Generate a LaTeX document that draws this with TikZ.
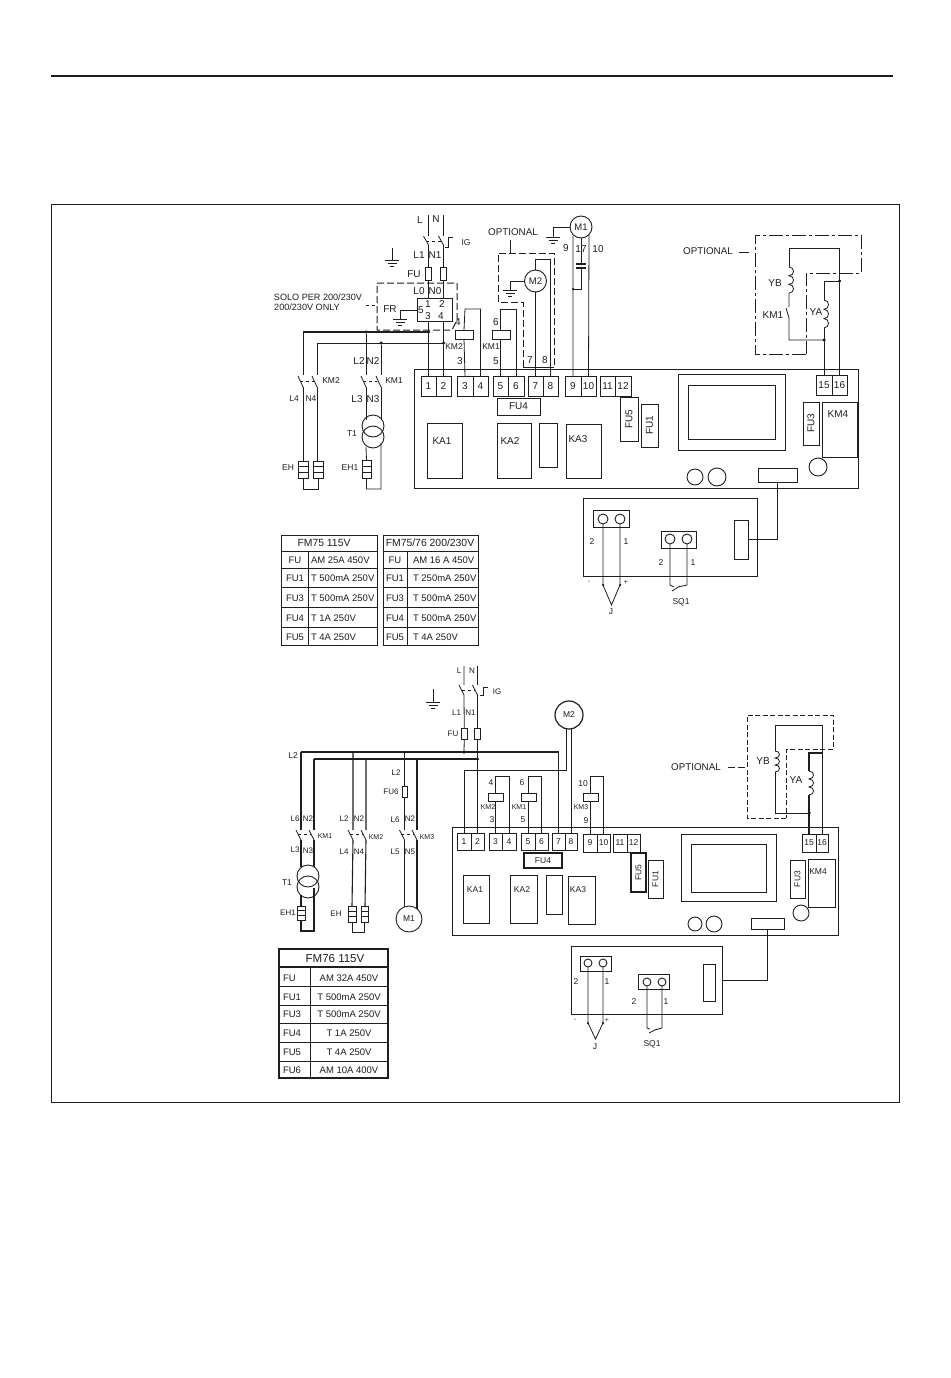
\documentclass[tikz,border=0pt]{standalone}
\usepackage{fontspec}
\setmainfont{Liberation Sans}
\definecolor{ink}{HTML}{1E1E1E}
\newcounter{lbc}
% label: optional node options, x, y, text
\newcommand\lb[4][]{\stepcounter{lbc}\node[lab,#1] (lb\thelbc) at (#2,#3) {#4};}
% box: options, name, x1, y1, x2, y2, text
\newcommand\bx[7][]{\node[boxx,#1,minimum width={(#5)-(#3)},minimum height={(#6)-(#4)}] (#2) at ({((#3)+(#5))/2},{((#4)+(#6))/2}) {#7};}
% ground symbol at top centre
\newcommand\gnd[2]{\draw[wire] (#1-7,#2) -- (#1+7,#2) (#1-4.5,#2+3) -- (#1+4.5,#2+3) (#1-2,#2+6) -- (#1+2,#2+6);}
% switch blade
\newcommand\blade[3]{\draw[wire] (#1-5,#2) -- (#1,#3);}
% heater: name x1 y1 x2 y2
\newcommand\heater[5]{\bx{#1}{#2}{#3}{#4}{#5}{}\draw[wire] (#2,{#3+(#5-#3)/3}) -- (#4,{#3+(#5-#3)/3}) (#2,{#3+2*(#5-#3)/3}) -- (#4,{#3+2*(#5-#3)/3});}
% coil at x from y1, n bumps of height h
\newcommand\coilx[4]{\draw[wire] (#1,#2) \foreach \cc in {1,...,#3}{ .. controls +(6,0) and +(6,0) .. ++(0,#4)};}
\begin{document}
\begin{tikzpicture}[x=1pt,y=-1pt,
  wire/.style={draw=ink,line width=.8pt},
  bus/.style={draw=ink,line width=1.7pt},
  lab/.style={inner sep=0pt,outer sep=0pt,text=ink,font=\fontsize{10}{10}\selectfont},
  sm/.style={font=\fontsize{8.5}{9}\selectfont},
  opt/.style={font=\fontsize{9.8}{10}\selectfont},
  tb/.style={font=\fontsize{9.5}{10}\selectfont},
  hd/.style={font=\fontsize{10.4}{11}\selectfont},
  sb/.style={font=\fontsize{8}{8}\selectfont},
  tiny2/.style={font=\fontsize{7}{7}\selectfont},
  boxx/.style={draw=ink,line width=.9pt,inner sep=0pt,outer sep=0pt,text=ink,font=\fontsize{10}{10}\selectfont},
  smb/.style={font=\fontsize{8.5}{9}\selectfont},
  dsh/.style={draw=ink,line width=1pt,dash pattern=on 7pt off 3pt},
  dsd/.style={draw=ink,line width=1pt,dash pattern=on 14pt off 3pt on 3pt off 3pt},
  dot/.style={circle,fill=ink,draw=none,inner sep=0pt,minimum size=3.5pt},
  roundc/.style={circle,draw=ink,line width=.9pt,inner sep=0pt,outer sep=0pt,text=ink,font=\fontsize{9.5}{10}\selectfont}]
\useasboundingbox (0,0) rectangle (950,1378);
\fill[white] (0,0) rectangle (950,1378);
% page rule and frame
\draw[draw=ink,line width=1.2pt] (51,76) -- (893,76);
\draw[draw=ink,line width=.8pt] (51,204) rectangle (899,1102);

%%%%%%%%%%%%%%%%%%%% TOP DIAGRAM %%%%%%%%%%%%%%%%%%%%
\bx{pcbA}{414}{369}{858}{488}{}
\bx{a1}{421}{376}{436}{396}{1}
\bx{a2}{436}{376}{451}{396}{2}
\bx{a3}{457}{376}{473}{396}{3}
\bx{a4}{473}{376}{488}{396}{4}
\bx{a5}{493}{376}{508}{396}{5}
\bx{a6}{508}{376}{524}{396}{6}
\bx{a7}{528}{376}{543}{396}{7}
\bx{a8}{543}{376}{558}{396}{8}
\bx{a9}{565}{376}{581}{396}{9}
\bx{a10}{581}{376}{596}{396}{10}
\bx{a11}{600}{376}{615}{396}{11}
\bx{a12}{615}{376}{631}{396}{12}
\bx{a15}{816}{375}{832}{395}{15}
\bx{a16}{832}{375}{847}{395}{16}
\bx{aFU4}{497}{398}{540}{415}{FU4}
\bx{aKA1}{427}{423}{462}{478}{}\lb{442}{441}{KA1}
\bx{aKA2}{497}{423}{531}{478}{}\lb{510}{441}{KA2}
\bx{aBl}{539}{423}{557}{467}{}
\bx{aKA3}{566}{424}{601}{478}{}\lb{578}{439}{KA3}
\bx{aFU5}{620}{397}{638}{441}{\rotatebox{90}{FU5}}
\bx{aFU1}{641}{404}{658}{447}{\rotatebox{90}{FU1}}
\bx{aDisp}{678}{374}{785}{450}{}
\bx{aDisI}{688}{385}{775}{439}{}
\bx{aFU3}{803}{402}{819}{445}{\rotatebox{90}{FU3}}
\bx{aKM4}{822}{402}{857}{457}{}\lb{838}{414}{KM4}
\node[roundc,minimum size=16pt] (aC1) at (695,477) {};
\node[roundc,minimum size=18pt] (aC2) at (717,477) {};
\node[roundc,minimum size=18pt] (aC3) at (818,467) {};
\bx{aConn}{758}{468}{797}{482}{}
% auxiliary board
\bx{aAux}{583}{498}{757}{576}{}
\bx{aJb}{593}{510}{629}{527}{}
\node[roundc,minimum size=10pt] (aJ1) at (603,519) {};
\node[roundc,minimum size=10pt] (aJ2) at (620,519) {};
\bx{aSb}{661}{531}{696}{548}{}
\node[roundc,minimum size=10pt] (aS1) at (670,539) {};
\node[roundc,minimum size=10pt] (aS2) at (687,539) {};
\bx{aAc}{734}{520}{748}{559}{}
\draw[wire] (aAc.east) -| (aConn.south);
\coordinate (aJtip) at (611.5,605);
\draw[wire] (aJ1.south) -- (603,585) -- (aJtip) -- (620,585) -- (aJ2.south);
\node[dot,minimum size=2.5pt] (aJd1) at (603,585) {};
\node[dot,minimum size=2.5pt] (aJd2) at (620,585) {};
\draw[wire] (aS1.south) -- (670,585) -- (674,587) (672,591) -- (680,586) (678,587) -- (687,585) -- (aS2.south);
\lb[sm]{592}{542}{2}\lb[sm]{626}{542}{1}\lb[tiny2]{589}{582}{-}\lb[tiny2]{626}{582}{+}\lb[sm]{611}{612}{J}
\lb[sm]{661}{563}{2}\lb[sm]{693}{563}{1}\lb[sm]{681}{602}{SQ1}
% mains input
\coordinate (aL) at (428.5,215);
\coordinate (aN) at (443.5,215);
\bx{aFL}{425.5}{267}{431.5}{280}{}
\bx{aFN}{440.5}{267}{446.5}{280}{}
\bx{aFR}{417}{298}{452}{321}{}
\draw[wire] (aL) -- (428.5,236) (428.5,245) -- (aFL.north) (aFL.south) -- (428.5,298);
\draw[wire] (aN) -- (443.5,236) (443.5,245) -- (aFN.north) (aFN.south) -- (443.5,298);
\blade{428.5}{236}{245}\blade{443.5}{236}{245}
\draw[wire,dashed] (426,241) -- (441,241);
\draw[wire] (445,247) -- (448,247) -- (448,237) -- (453,237);
\lb{420}{220}{L}\lb{436}{219}{N}\lb[sm]{466}{243}{IG}\lb{419}{255}{L1}\lb{435}{255}{N1}\lb{414}{274}{FU}
\lb{419}{291}{L0}\lb{435}{291}{N0}
\draw[wire] (392,248) -- (392,260);\gnd{392}{260}
\draw[dsh] (377,283) -- (457,283) -- (457,320) -- (452,330) -- (377,330) -- cycle;
\lb{428}{304}{1}\lb{442}{304}{2}\lb{428}{316}{3}\lb{441}{316}{4}\lb{421}{310}{5}\lb{390}{309}{FR}
\draw[wire] (aFR.west |- 0,310) -- (400,310) -- (400,319);\gnd{400}{319}
\lb[font=\fontsize{9.1}{9}\selectfont]{318}{297}{SOLO PER 200/230V}\lb[font=\fontsize{9.1}{9}\selectfont]{307}{307}{200/230V ONLY}
\draw[wire,dashed] (366,305) -- (376,305);
% bus wires
\coordinate (aBL) at (428.5,332);
\coordinate (aBN) at (443.5,343);
\draw[wire] (428.5,321) -- (a1.north);
\draw[wire] (443.5,321) -- (a2.north);
\draw[bus] (aBL) -- (303,332);
\draw[wire] (aBN) -- (317,343);
\node[dot] (aD1) at (aBL) {};\node[dot] (aD2) at (aBN) {};
\node[dot] (aD3) at (366,332) {};\node[dot] (aD4) at (381,343) {};
% KM2 branch
\draw[wire] (303,332) -- (303,375) (303,387) -- (303,461) (317,343) -- (317,375) (317,387) -- (317,461);
\blade{303}{376}{387}\blade{317}{376}{387}
\draw[wire,dashed] (300,381) -- (314,381);
\lb[sm]{331}{381}{KM2}\lb[sm]{294}{399}{L4}\lb[sm]{311}{399}{N4}
\heater{aEHa}{298}{461}{308}{478}\heater{aEHb}{313}{461}{323}{478}
\draw[wire] (aEHa.south) -- (303,489) -- (318,489) -- (aEHb.south);
\lb[sm]{288}{468}{EH}
% KM1 branch
\draw[wire] (aD3) -- (366,375) (366,387) -- (366,420) (aD4) -- (381,375) (381,387) -- (381,420);
\blade{366}{376}{387}\blade{381}{376}{387}
\draw[wire,dashed] (363,381) -- (377,381);
\lb[sm]{394}{381}{KM1}\lb{359}{361}{L2}\lb{373}{361}{N2}\lb{357}{399}{L3}\lb{373}{399}{N3}
\node[roundc,minimum size=22pt] (aTa) at (373,426) {};
\node[roundc,minimum size=22pt] (aTb) at (373,437) {};
\lb[sm]{352}{434}{T1}
\heater{aEH1}{362}{460}{371}{478}
\draw[wire] (366,447) -- (aEH1.north) (aEH1.south) -- (366.5,489) -- (381,489) -- (381,443);
\lb[sm]{350}{468}{EH1}
% relays
\bx{aRa}{455}{330}{473}{339}{}
\draw[wire] (a3.north) -- (aRa.south) (aRa.north) -- (465,309) -- (480.5,309) -- (a4.north);
\lb{458}{322}{4}\lb[sm]{454}{347}{KM2}\lb{460}{361}{3}
\bx{aRb}{492}{330}{510}{339}{}
\draw[wire] (a5.north) -- (500.5,339) (500.5,330) -- (500.5,309) -- (516,309) -- (a6.north);
\lb{496}{322}{6}\lb[sm]{491}{347}{KM1}\lb{496}{361}{5}
% M2 and optional box
\lb[opt]{513}{232}{OPTIONAL}
\draw[wire] (510,240) -- (510,253);
\draw[dsh] (523,367) -- (523,302) -- (498,302) -- (498,253) -- (554,253) -- (554,367);
\draw[wire] (523,367) -- (554,367);
\node[roundc,minimum size=22pt] (aM2) at (535.5,281) {M2};
\draw[wire] (aM2.west) -- (510,281) -- (510,290);\gnd{510}{290}
\draw[wire] (a7.north) -- (aM2.south);
\draw[wire] (aM2.north) -- (535.5,259) -- (550.5,259) -- (a8.north);
\lb{530}{360}{7}\lb{545}{360}{8}
% M1
\node[roundc,minimum size=22pt] (aM1) at (581,227) {M1};
\draw[wire] (aM1.west) -- (553,227) -- (553,237);\gnd{553}{237}
\draw[wire] (573,236) -- (a9.north) (589,235) -- (a10.north);
\draw[wire] (aM1.south) -- (581,264) (581,268) -- (581,289) -- (573,289);
\draw[wire,line width=1.1pt] (576,264) -- (586,264) (576,268) -- (586,268);
\node[dot,minimum size=2.5pt] (aD5) at (573,289) {};
\lb{566}{248}{9}\lb{581}{249}{17}\lb{598}{249}{10}
% right optional
\lb[opt]{708}{251}{OPTIONAL}
\draw[wire] (739,252) -- (749,252);
\draw[dsd] (806,354) -- (755,354) -- (755,235) -- (861,235) -- (861,273) -- (806,273) -- (806,354);
\draw[wire] (789,267) -- (789,248) -- (839.5,248) -- (a16.north);
\coilx{789}{267}{3}{8.7}
\draw[wire] (789,293) -- (789,307) (786,308) -- (789,318) -- (789,340) -- (824,340);
\draw[wire] (a15.north) -- (824,328);
\coilx{824}{300}{3}{9.3}
\draw[wire] (824,300) -- (824,281) -- (839.5,281);
\node[dot] (aD6) at (824,340) {};\node[dot] (aD7) at (839.5,281) {};
\lb{775}{283}{YB}\lb{773}{315}{KM1}\lb{816}{312}{YA}
% tables
\draw[draw=ink,line width=1pt] (281,535) rectangle (377,645) (281,551) -- (377,551);
\draw[draw=ink,line width=.7pt] (308,551) -- (308,645) (281,568) -- (377,568) (281,587) -- (377,587) (281,607) -- (377,607) (281,627) -- (377,627);
\draw[draw=ink,line width=1pt] (383,535) rectangle (478,645) (383,551) -- (478,551);
\draw[draw=ink,line width=.7pt] (407,551) -- (407,645) (383,568) -- (478,568) (383,587) -- (478,587) (383,607) -- (478,607) (383,627) -- (478,627);
\lb[hd]{324}{543}{FM75  115V}\lb[hd]{430}{543}{FM75/76  200/230V}
\foreach \yy/\aa/\bb/\cc/\dd in {
  560/FU/AM 25A 450V/FU/AM 16 A 450V,
  578/FU1/T 500mA 250V/FU1/T 250mA 250V,
  598/FU3/T 500mA 250V/FU3/T 500mA 250V,
  618/FU4/T 1A 250V/FU4/T 500mA 250V,
  637/FU5/T 4A 250V/FU5/T 4A 250V}{
  \lb[tb]{295}{\yy}{\aa}
  \lb[tb,anchor=west]{311}{\yy}{\bb}
  \lb[tb]{395}{\yy}{\cc}
  \lb[tb,anchor=west]{413}{\yy}{\dd}
}

%%%%%%%%%%%%%%%%%%%% BOTTOM DIAGRAM %%%%%%%%%%%%%%%%%%%%
\bx{pcbB}{452}{827}{838}{935}{}
\bx[smb]{b1}{457}{833}{471}{850}{1}
\bx[smb]{b2}{471}{833}{484}{850}{2}
\bx[smb]{b3}{489}{833}{502}{850}{3}
\bx[smb]{b4}{502}{833}{516}{850}{4}
\bx[smb]{b5}{521}{833}{535}{850}{5}
\bx[smb]{b6}{535}{833}{548}{850}{6}
\bx[smb]{b7}{552}{833}{565}{850}{7}
\bx[smb]{b8}{565}{833}{577}{850}{8}
\bx[smb]{b9}{583}{834}{597}{852}{9}
\bx[smb]{b10}{597}{834}{610}{852}{10}
\bx[smb]{b11}{613}{834}{627}{852}{11}
\bx[smb]{b12}{627}{834}{640}{852}{12}
\bx[smb]{b15}{802}{834}{816}{852}{15}
\bx[smb]{b16}{816}{834}{828}{852}{16}
\bx[smb,line width=1.3pt]{bFU4}{524}{853}{562}{868}{FU4}
\bx{bKA1}{463}{875}{489}{923}{}\lb[sm]{475}{890}{KA1}
\bx{bKA2}{510}{875}{537}{923}{}\lb[sm]{522}{890}{KA2}
\bx{bBl}{546}{875}{562}{914}{}
\bx{bKA3}{568}{876}{595}{924}{}\lb[sm]{578}{890}{KA3}
\bx[smb,line width=1.3pt]{bFU5}{631}{853}{646}{892}{\rotatebox{90}{FU5}}
\bx[smb]{bFU1}{648}{860}{663}{898}{\rotatebox{90}{FU1}}
\bx{bDisp}{681}{834}{776}{901}{}
\bx{bDisI}{691}{844}{766}{892}{}
\bx[smb]{bFU3}{790}{860}{805}{898}{\rotatebox{90}{FU3}}
\bx{bKM4}{808}{859}{835}{907}{}\lb[sm]{818}{872}{KM4}
\node[roundc,minimum size=14pt] (bC1) at (695,924) {};
\node[roundc,minimum size=16pt] (bC2) at (714,924) {};
\node[roundc,minimum size=16pt] (bC3) at (801,913) {};
\bx{bConn}{751}{918}{784}{929}{}
% aux board
\bx{bAux}{571}{946}{722}{1014}{}
\bx{bJb}{580}{956}{611}{971}{}
\node[roundc,minimum size=8pt] (bJ1) at (588,963) {};
\node[roundc,minimum size=8pt] (bJ2) at (603,963) {};
\bx{bSb}{638}{974}{669}{989}{}
\node[roundc,minimum size=8pt] (bS1) at (647,982) {};
\node[roundc,minimum size=8pt] (bS2) at (662,982) {};
\bx{bAc}{703}{964}{715}{1001}{}
\draw[wire] (bAux.east) -| (bConn.south);
\coordinate (bJtip) at (595.5,1039);
\draw[wire] (bJ1.south) -- (588,1023) -- (bJtip) -- (603,1023) -- (bJ2.south);
\node[dot,minimum size=2.5pt] (bJd1) at (588,1023) {};
\node[dot,minimum size=2.5pt] (bJd2) at (603,1023) {};
\draw[wire] (bS1.south) -- (647,1028) -- (650,1029) (649,1033) -- (657,1029) (655,1030) -- (662,1028) -- (bS2.south);
\lb[sm]{576}{982}{2}\lb[sm]{607}{982}{1}\lb[tiny2]{575}{1020}{-}\lb[tiny2]{607}{1020}{+}\lb[sm]{595}{1047}{J}
\lb[sm]{634}{1002}{2}\lb[sm]{666}{1002}{1}\lb[sm]{652}{1044}{SQ1}
% mains
\coordinate (bL) at (464,666);
\coordinate (bN) at (477.5,666);
\bx{bFL}{461.5}{728}{467}{739}{}
\bx{bFN}{474.5}{728}{480.5}{739}{}
\draw[wire] (bL) -- (464,685) (464,695) -- (bFL.north);
\draw[wire] (bN) -- (477.5,685) (477.5,695) -- (bFN.north);
\blade{464}{685}{695}\blade{477.5}{685}{695}
\draw[wire,dashed] (462,690) -- (475,690);
\draw[wire] (480,695) -- (483,695) -- (483,687) -- (488,687);
\lb[sb]{459}{671}{L}\lb[sb]{472}{671}{N}\lb[sb]{497}{692}{IG}\lb[sb]{456.5}{713}{L1}\lb[sb]{470.5}{713}{N1}\lb[sb]{453}{734}{FU}
\draw[wire] (433,689) -- (433,702);\gnd{433}{702}
\coordinate (bBL) at (464,752);
\coordinate (bBN) at (477.5,759);
\draw[wire] (bFL.south) -- (bBL);
\draw[bus] (301,752) -- (558.5,752) -- (b7.north);
\draw[wire] (bFN.south) -- (b2.north);
\draw[wire,line width=1.1pt] (314,759) -- (bBN);
\node[dot] (bD1) at (bBL) {};\node[dot] (bD2) at (bBN) {};
\lb[sm]{293}{756}{L2}
% KM1 branch bottom
\draw[wire,line width=1.1pt] (301,752) -- (301,830) (301,840) -- (301,867) (314,759) -- (314,830) (314,840) -- (314,867);
\blade{301}{830}{840}\blade{314}{830}{840}
\draw[wire,dashed] (298,834) -- (311,834);
\lb[sb]{295}{819}{L6}\lb[sb]{308}{819}{N2}\lb[sb]{295}{850}{L3}\lb[sb]{308}{851}{N3}\lb[tiny2]{325}{836}{KM1}
\node[roundc,minimum size=22pt] (bTa) at (308,876) {};
\node[roundc,minimum size=22pt] (bTb) at (308,887) {};
\lb[sm]{287}{883}{T1}
\heater{bEH1}{297}{906}{305}{920}
\draw[wire,line width=1.1pt] (301,895) -- (bEH1.north) (bEH1.south) -- (301,931) -- (314,931) -- (314,888);
\lb[sb]{288}{913}{EH1}
% KM2 branch bottom
\draw[wire,line width=1.1pt] (353,752) -- (353,830) (353,840) -- (352,906) (366,759) -- (366,830) (366,840) -- (365,906);
\blade{353}{830}{840}\blade{366}{830}{840}
\draw[wire,dashed] (350,834) -- (363,834);
\lb[sb]{344}{819}{L2}\lb[sb]{359}{819}{N2}\lb[tiny2]{376}{837}{KM2}\lb[sb]{344}{852}{L4}\lb[sb]{359}{852}{N4}
\heater{bEHa}{348}{906}{356}{922}\heater{bEHb}{361}{906}{368}{922}
\draw[wire] (bEHa.south) -- (352,932) -- (364.5,932) -- (bEHb.south);
\lb[sb]{336}{914}{EH}
% KM3 branch bottom
\bx{bF6}{402}{786}{407}{797}{}
\draw[wire] (404.5,752) -- (bF6.north) (bF6.south) -- (404.5,830) (404.5,840) -- (404.5,907);
\draw[wire,line width=1.1pt] (417,759) -- (417,830) (417,840) -- (417,913);
\blade{404.5}{830}{840}\blade{417}{830}{840}
\draw[wire,dashed] (401,834) -- (414,834);
\lb[sb]{396}{773}{L2}\lb[sb]{391}{792}{FU6}\lb[sb]{395}{820}{L6}\lb[sb]{410}{819}{N2}\lb[tiny2]{427}{837}{KM3}\lb[sb]{395}{852}{L5}\lb[sb]{410}{852}{N5}
\node[roundc,fill=white,font=\fontsize{8.5}{9}\selectfont,minimum size=26pt] (bM1) at (409,919) {M1};
% M2
\node[roundc,line width=1.2pt,font=\fontsize{8.5}{9}\selectfont,minimum size=28pt] (bM2) at (569,715) {M2};
\draw[wire,line width=1pt] (566,729) -- (566,770) -- (464,770) -- (b1.north);
\draw[wire] (571,729) -- (b8.north);
% relays bottom
\bx{bRa}{488}{793}{503}{801}{}
\draw[wire] (b3.north) -- (495.5,801) (495.5,793) -- (495.5,776) -- (509,776) -- (b4.north);
\lb[sm]{491}{783}{4}\lb[tiny2]{488}{807}{KM2}\lb[sm]{492}{820}{3}
\bx{bRb}{521}{793}{536}{801}{}
\draw[wire] (b5.north) -- (528,801) (528,793) -- (528,776) -- (541.5,776) -- (b6.north);
\lb[sm]{522}{783}{6}\lb[tiny2]{519}{807}{KM1}\lb[sm]{523}{820}{5}
\bx{bRc}{583}{793}{598}{801}{}
\draw[wire] (b9.north) -- (590,801) (590,793) -- (590,776) -- (603.5,776) -- (b10.north);
\lb[sm]{583}{784}{10}\lb[tiny2]{581}{807}{KM3}\lb[sm]{586}{821}{9}
% optional bottom
\lb[opt]{696}{767}{OPTIONAL}
\draw[dsh] (728,767) -- (747,767);
\draw[dsh,dash pattern=on 5pt off 2.5pt] (786,818) -- (747,818) -- (747,715) -- (833,715) -- (833,749) -- (786,749) -- (786,818);
\draw[wire] (775,751) -- (775,725) -- (822,725) -- (b16.north);
\coilx{775}{751}{3}{7}
\draw[wire] (775,772) -- (775,813) -- (809,813);
\draw[wire,line width=1.1pt] (b15.north) -- (809,795);
\coilx{809}{771}{3}{8}
\draw[wire,line width=1.1pt] (809,771) -- (809,753) -- (822,753);
\node[dot] (bD6) at (809,813) {};
\lb{763}{761}{YB}\lb{796}{780}{YA}
% table bottom
\draw[draw=ink,line width=1.1pt] (279,949) rectangle (388,1078) (279,967) -- (388,967);
\draw[draw=ink,line width=.9pt] (310,967) -- (310,1078);
\foreach \yy in {986,1005,1023,1042,1061}{\draw[draw=ink,line width=.8pt] (279,\yy) -- (388,\yy);}
\lb[font=\fontsize{11.5}{12}\selectfont]{335}{959}{FM76 115V}
\foreach \yy/\aa/\bb in {
  978/FU/AM 32A 450V,
  997/FU1/T 500mA 250V,
  1014/FU3/T 500mA 250V,
  1033/FU4/T 1A 250V,
  1052/FU5/T 4A 250V,
  1070/FU6/AM 10A 400V}{
  \lb[tb,anchor=west]{283}{\yy}{\aa}
  \lb[tb]{349}{\yy}{\bb}
}
\end{tikzpicture}
\end{document}
